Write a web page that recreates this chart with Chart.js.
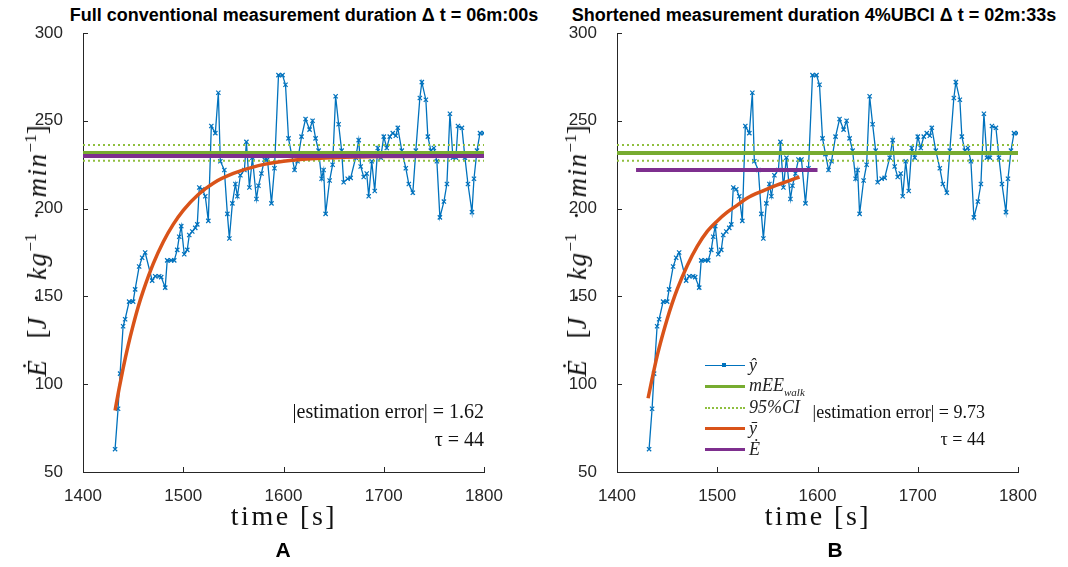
<!DOCTYPE html>
<html>
<head>
<meta charset="utf-8">
<script src="https://cdn.jsdelivr.net/npm/chart.js@4.4.0/dist/chart.umd.min.js"></script>
<style>
  body { margin: 0; background: #fff; width: 1068px; height: 567px; position: relative; overflow: hidden; font-family: 'Liberation Sans', Arial, sans-serif; }
  .panel { position: absolute; top: 0; width: 534px; height: 567px; }
  .panel canvas { display: block; }
  .ttl { position: absolute; top: 5px; font-weight: bold; font-size: 18px; color: #000; white-space: nowrap; transform: translateX(-50%); }
  .letter { position: absolute; top: 538px; font-weight: bold; font-size: 21px; color: #000; transform: translateX(-50%); }
  .xlab { position: absolute; top: 500px; font-family: 'Liberation Serif', serif; font-size: 28px; letter-spacing: 2.5px; color: #111; white-space: nowrap; transform: translateX(-50%); }
  .ylab { position: absolute; top: 251px; font-family: 'Liberation Serif', 'DejaVu Serif', serif; font-size: 27px; color: #111; white-space: nowrap; transform: translate(-50%, -50%) rotate(-90deg); }
  .ylab i { letter-spacing: 1.5px; }
  .ylab sup { font-size: 17px; font-style: normal; }
  #legendB { position: absolute; left: 705px; top: 355px; font-family: 'Liberation Serif', 'DejaVu Serif', serif; font-style: italic; font-size: 18px; color: #222; }
  #legendB .row { height: 21px; display: flex; align-items: center; }
  #legendB .smp { width: 40px; position: relative; margin-right: 4px; }
  #legendB sub { font-size: 11px; }
</style>
</head>
<body>
<div class="ttl" style="left:304px">Full conventional measurement duration Δ t = 06m:00s</div>
<div class="ttl" style="left:814px">Shortened measurement duration 4%UBCI Δ t = 02m:33s</div>
<div class="panel" style="left:0"><canvas id="chartA" width="534" height="567"></canvas></div>
<div class="panel" style="left:534px"><canvas id="chartB" width="534" height="567"></canvas></div>
<div class="ylab" style="left:37px"><i>Ė</i>&ensp;&nbsp;[<i>J</i>&ensp;·&ensp;<i>kg</i><sup>−1</sup>&ensp;·&ensp;<i>min</i><sup>−1</sup>]</div>
<div class="ylab" style="left:577px"><i>Ė</i>&ensp;&nbsp;[<i>J</i>&ensp;·&ensp;<i>kg</i><sup>−1</sup>&ensp;·&ensp;<i>min</i><sup>−1</sup>]</div>
<div class="xlab" style="left:284px">time [s]</div>
<div class="xlab" style="left:818px">time [s]</div>
<div class="letter" style="left:283px">A</div>
<div class="letter" style="left:835px">B</div>
<div id="legendB"></div>
<script>
const xTicks = [1400, 1500, 1600, 1700, 1800];
const yTicks = [50, 100, 150, 200, 250, 300];

// breath-by-breath energy expenditure (same series in both panels)
const sampleTimes = [1432, 1435, 1437, 1440, 1442, 1446, 1450, 1452, 1456, 1459, 1462, 1469, 1472, 1476, 1478,
  1482, 1484, 1488, 1491, 1494, 1496, 1498, 1501, 1504, 1506, 1509, 1512, 1514, 1516, 1519, 1522, 1525, 1528,
  1532, 1535, 1537, 1541, 1544, 1546, 1549, 1552, 1554, 1557, 1561, 1563, 1566, 1569, 1573, 1575, 1578, 1581,
  1584, 1588, 1591, 1595, 1599, 1602, 1605, 1608, 1611, 1614, 1618, 1622, 1626, 1629, 1632, 1635, 1638, 1640,
  1642, 1646, 1649, 1652, 1655, 1658, 1660, 1664, 1667, 1672, 1675, 1677, 1680, 1683, 1685, 1688, 1691, 1694,
  1697, 1700, 1703, 1706, 1709, 1712, 1714, 1718, 1722, 1725, 1729, 1732, 1736, 1738, 1742, 1744, 1747, 1750,
  1753, 1756, 1760, 1763, 1766, 1769, 1772, 1774, 1778, 1781, 1784, 1788, 1790, 1793, 1796, 1800];
const sampleEE = [63, 86, 106, 133, 137, 147, 147, 154, 167, 172, 175, 159, 161.5, 161.5, 161,
  155, 170.5, 170.5, 170.5, 176.5, 184, 190, 174, 176.5, 185, 187, 189, 191, 212, 211, 207, 193, 247,
  243, 266, 227, 222, 197, 183, 203, 214, 207, 219, 222, 238, 212, 229, 205.5, 213, 220, 228,
  228, 203, 223, 276, 276, 270.5, 240, 231, 222, 227, 241, 251, 245, 250, 240, 233, 217, 222,
  197, 216, 225, 264, 248, 233, 215, 217, 217.5, 229, 239, 224, 218, 220, 207, 227, 210, 234.5,
  229, 241, 234.5, 241, 243, 241.5, 246, 233, 223, 214, 209, 233, 263, 272, 262, 241, 233, 234.5,
  227, 195, 204, 214, 254, 229, 229, 247, 246, 229, 214, 198, 217, 233, 243, 243];

// fitted curves
const fitTimesA = [1432, 1436, 1440, 1445, 1450, 1455, 1460, 1470, 1480, 1490, 1500, 1515, 1530, 1550, 1575, 1600, 1650, 1700, 1800];
const fitEEA = [85, 97.5, 109, 122, 133.5, 144, 153, 168.5, 181, 191, 199, 208, 214.5, 220, 224.5, 227, 229, 229.7, 229.9];
const fitTimesB = [1431, 1435, 1440, 1445, 1450, 1455, 1460, 1470, 1480, 1490, 1500, 1510, 1520, 1530, 1545, 1560, 1570, 1582];
const fitEEB = [92, 103, 116, 127, 137, 146, 154, 167.5, 178.5, 187, 193, 198, 202, 206, 210, 213.5, 215.5, 218];

const fullSpan = [1400, 1800];
const meeWalk = 231.6;
const ciBounds = [227.3, 236.2];
const eDotA = 230.0;
const eDotSpanA = [1400, 1800];
const eDotB = 222.0;
const eDotSpanB = [1419, 1600];

const notesA = ['|estimation error| = 1.62', 'τ = 44'];
const notesB = ['|estimation error| = 9.73', 'τ = 44'];
const notesPosA = [1800, 83.5, 68];
const notesPosB = [1767, 83.5, 68];

const BLUE = '#0072BD', GREEN = '#77AC30', CI_GREEN = '#8FBF3F', ORANGE = '#D95319', PURPLE = '#7E2F8E';
const AXIS = '#262626';

function toPoints(xs, ys) {
  return xs.map((x, i) => ({ x: x, y: ys[i] }));
}
function level(span, v) {
  return span.map(x => ({ x: x, y: v }));
}

const inwardTicks = {
  id: 'inwardTicks',
  afterDatasetsDraw(chart) {
    const { ctx, chartArea, scales } = chart;
    ctx.save();
    ctx.strokeStyle = AXIS;
    ctx.lineWidth = 1;
    ctx.beginPath();
    scales.x.ticks.forEach((t) => {
      const px = Math.round(scales.x.getPixelForValue(t.value)) + 0.5;
      ctx.moveTo(px, chartArea.bottom);
      ctx.lineTo(px, chartArea.bottom - 5);
    });
    scales.y.ticks.forEach((t) => {
      const py = Math.round(scales.y.getPixelForValue(t.value)) + 0.5;
      ctx.moveTo(chartArea.left, py);
      ctx.lineTo(chartArea.left + 5, py);
    });
    ctx.stroke();
    ctx.restore();
  }
};

const notesPlugin = {
  id: 'notes',
  afterDatasetsDraw(chart, args, opts) {
    if (!opts.lines) return;
    const { ctx, scales } = chart;
    ctx.save();
    ctx.font = (opts.size || 18) + 'px "Liberation Serif", "DejaVu Serif", serif';
    ctx.fillStyle = '#111';
    ctx.textAlign = 'right';
    ctx.textBaseline = 'middle';
    const px = scales.x.getPixelForValue(opts.pos[0]);
    opts.lines.forEach((txt, i) => {
      ctx.fillText(txt, px, scales.y.getPixelForValue(opts.pos[i + 1]));
    });
    ctx.restore();
  }
};

function buildDatasets(fitT, fitV, eDot, eDotSpan) {
  return [
    { label: 'Edot', data: level(eDotSpan, eDot), borderColor: PURPLE, borderWidth: 4, pointRadius: 0 },
    { label: 'mEE', data: level(fullSpan, meeWalk), borderColor: GREEN, borderWidth: 4, pointRadius: 0 },
    { label: 'fit', data: toPoints(fitT, fitV), borderColor: ORANGE, borderWidth: 3.5, pointRadius: 0, cubicInterpolationMode: 'monotone' },
    { label: 'ciHigh', data: level(fullSpan, ciBounds[1]), borderColor: CI_GREEN, borderWidth: 2, borderDash: [2, 3], pointRadius: 0 },
    { label: 'ciLow', data: level(fullSpan, ciBounds[0]), borderColor: CI_GREEN, borderWidth: 2, borderDash: [2, 3], pointRadius: 0 },
    { label: 'yhat', data: toPoints(sampleTimes, sampleEE), borderColor: BLUE, borderWidth: 1.3,
      pointStyle: 'crossRot', pointRadius: 3, pointBorderWidth: 1.2, pointBorderColor: BLUE }
  ];
}

function makeChart(id, datasets, notes, notesPos, notesSize) {
  const ctx = document.getElementById(id).getContext('2d');
  return new Chart(ctx, {
    type: 'line',
    data: { datasets: datasets },
    options: {
      responsive: false,
      animation: false,
      layout: { padding: { left: 0, right: 50, top: 33, bottom: 36 } },
      plugins: {
        legend: { display: false },
        tooltip: { enabled: false },
        notes: { lines: notes, pos: notesPos, size: notesSize }
      },
      scales: {
        x: {
          type: 'linear',
          min: xTicks[0],
          max: xTicks[xTicks.length - 1],
          afterBuildTicks: (s) => { s.ticks = xTicks.map(v => ({ value: v })); },
          afterFit: (s) => { s.height = 59; },
          ticks: { color: AXIS, font: { family: 'Liberation Sans', size: 17 }, padding: 6, maxRotation: 0, callback: v => String(v) },
          grid: { display: false },
          border: { display: true, color: AXIS, width: 1 }
        },
        y: {
          min: yTicks[0],
          max: yTicks[yTicks.length - 1],
          afterBuildTicks: (s) => { s.ticks = yTicks.map(v => ({ value: v })); },
          afterFit: (s) => { s.width = 83; },
          ticks: { color: AXIS, font: { family: 'Liberation Sans', size: 17 }, padding: 12, callback: v => String(v) },
          grid: { display: false },
          border: { display: true, color: AXIS, width: 1 }
        }
      }
    },
    plugins: [inwardTicks, notesPlugin]
  });
}

const chartA = makeChart('chartA', buildDatasets(fitTimesA, fitEEA, eDotA, eDotSpanA), notesA, notesPosA, 20);
const chartB = makeChart('chartB', buildDatasets(fitTimesB, fitEEB, eDotB, eDotSpanB), notesB, notesPosB, 18);

// legend for panel B, built from its datasets
const legendItems = [
  { key: 'yhat', html: 'ŷ', marker: true },
  { key: 'mEE', html: 'mEE<sub>walk</sub>' },
  { key: 'ciHigh', html: '95%CI' },
  { key: 'fit', html: 'ȳ' },
  { key: 'Edot', html: 'Ė' }
];
const legendEl = document.getElementById('legendB');
legendItems.forEach((item) => {
  const ds = chartB.data.datasets.find(d => d.label === item.key);
  const row = document.createElement('div');
  row.className = 'row';
  const style = ds.borderDash ? 'dotted' : 'solid';
  const w = ds.borderDash ? 2 : Math.max(1.5, ds.borderWidth - 0.5);
  let sample = `<div class="smp" style="border-top:${w}px ${style} ${ds.borderColor}">`;
  if (item.marker) {
    sample += `<div style="position:absolute;left:17px;top:-3px;width:4px;height:4px;background:${ds.borderColor}"></div>`;
  }
  sample += '</div>';
  row.innerHTML = sample + `<span>${item.html}</span>`;
  legendEl.appendChild(row);
});
</script>
</body>
</html>
